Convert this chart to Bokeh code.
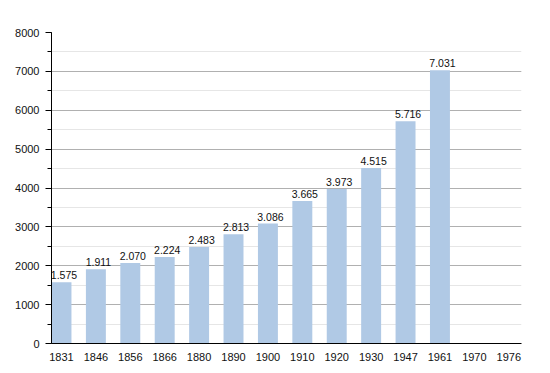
from bokeh.plotting import figure
from bokeh.models import ColumnDataSource, FixedTicker, SingleIntervalTicker, Range1d, LabelSet
from bokeh.core.properties import value
from bokeh.embed import file_html
from bokeh.resources import INLINE

years = ["1831", "1846", "1856", "1866", "1880", "1890", "1900", "1910",
         "1920", "1930", "1947", "1961", "1970", "1976"]
population = [1575, 1911, 2070, 2224, 2483, 2813, 3086, 3665, 3973, 4515, 5716, 7031]

xs = list(range(len(population)))
labels = [f"{v:,}".replace(",", ".") for v in population]
src = ColumnDataSource(dict(x=xs, top=population, label=labels))

p = figure(width=550, height=373, output_backend="svg", toolbar_location=None,
           x_range=Range1d(-0.29, 13.37), y_range=Range1d(0, 8000),
           min_border_left=51, min_border_right=29, min_border_top=32, min_border_bottom=30)
p.outline_line_color = None

p.vbar(x="x", top="top", width=0.58, source=src, fill_color="#b0c9e5", line_color=None)
ls = LabelSet(x="x", y="top", text="label", source=src, text_align="center",
              text_baseline="bottom", y_offset=3, x_offset=2.5, text_font=value("Liberation Sans"),
              text_font_size=value("10.5px"), text_color=value("#111111"), level="overlay")
p.add_layout(ls)

p.xaxis.ticker = FixedTicker(ticks=list(range(len(years))))
p.xaxis.major_label_overrides = {i: y for i, y in enumerate(years)}
p.xaxis.major_tick_line_color = None
p.xaxis.minor_tick_line_color = None
p.xaxis.axis_line_color = "#000000"
p.xaxis.major_label_standoff = 3
p.xgrid.grid_line_color = None

p.yaxis.ticker = SingleIntervalTicker(interval=1000, num_minor_ticks=2)
p.yaxis.axis_line_color = "#000000"
p.yaxis.major_tick_out = 6
p.yaxis.major_tick_in = 0
p.yaxis.minor_tick_out = 4
p.yaxis.minor_tick_in = 0
p.yaxis.major_label_standoff = 6
p.ygrid.grid_line_color = "#b0b0b0"
p.ygrid.minor_grid_line_color = "#e6e6e6"

for ax in (p.xaxis, p.yaxis):
    ax.major_label_text_font = "Liberation Sans"
    ax.major_label_text_font_size = "11px"
    ax.major_label_text_color = "#111111"

open("out.html", "w").write(file_html(p, INLINE))
